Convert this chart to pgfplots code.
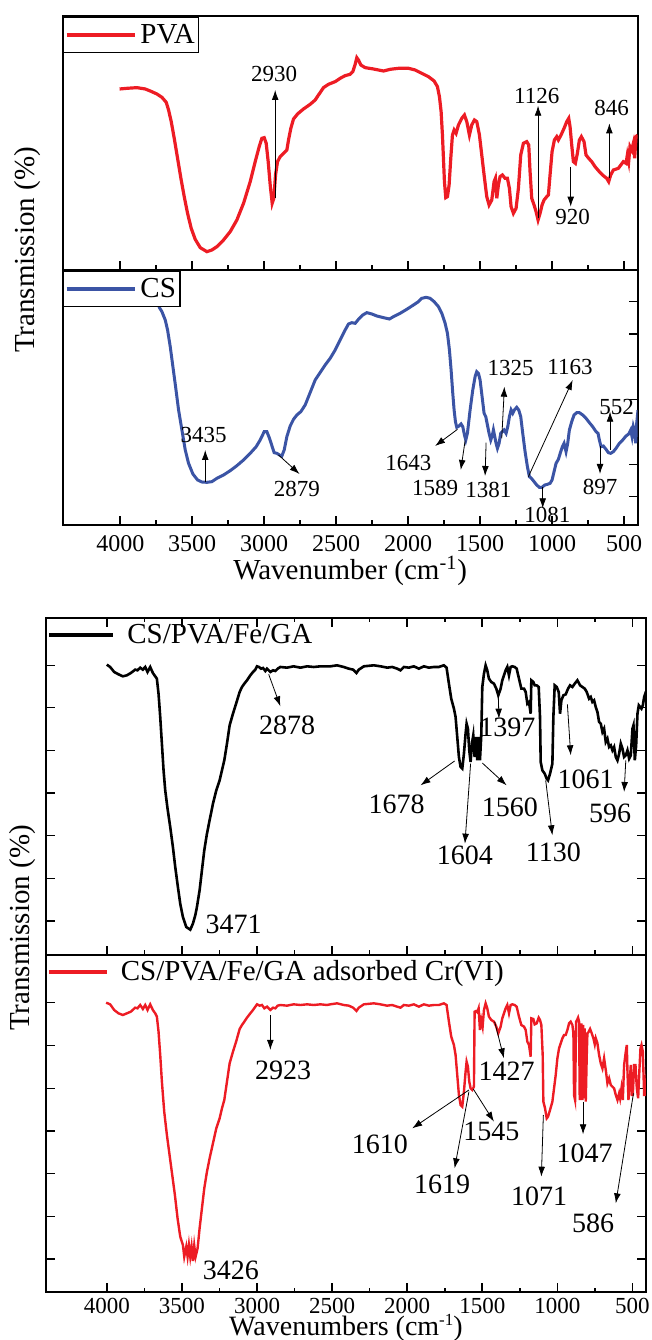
\documentclass[border=0pt]{standalone}
\usepackage{pgfplots}
\pgfplotsset{compat=1.18}
\usepackage{fontspec}
\setmainfont{Liberation Serif}
\usetikzlibrary{arrows.meta}
\definecolor{pvared}{RGB}{237,28,36}
\definecolor{csblue}{RGB}{59,84,165}
\newcommand\fa{\fontsize{11.5}{13}\selectfont}
\newcommand\fb{\fontsize{14}{16}\selectfont}
\newcommand\fl{\fontsize{14.5}{17}\selectfont}
\tikzset{ar/.style={line width=0.4pt,-{Latex[length=5pt,width=3.4pt]}},
  lab/.style={inner sep=0pt}}
\pgfplotsset{
  ftir/.style={
    scale only axis, x dir=reverse, clip=true,
    axis line style={line width=0.9pt},
    tick align=inside,
    xtick={500,1000,...,4000},
    minor x tick num=1,
    major tick length=4.5pt, minor tick length=2.3pt,
    major tick style={line width=0.8pt,black},
    minor tick style={line width=0.8pt,black},
    /pgf/number format/1000 sep={},
    /pgf/number format/assume math mode=true,
    scaled x ticks=false,
    tick label style={font=\fontsize{12}{14}\selectfont},
    legend cell align=left,
  },
  boxleg/.style={
    legend style={at={(0,1)}, anchor=north west, xshift=0.3pt, yshift=-0.3pt,
      draw=black, line width=0.6pt, fill=white, inner sep=0.5pt,
      font=\fl, nodes={inner xsep=1.5pt, inner ysep=3pt, text height=9.6pt, text depth=1pt},
      /tikz/every odd column/.append style={column sep=0.5pt}},
    legend image code/.code={\draw[##1,line width=1.8pt] (0pt,0pt) -- (34pt,0pt);}
  },
  freeleg/.style 2 args={
    legend style={at={(0,1)}, anchor=north west, xshift=0.5pt,
      draw=none, fill=none, inner sep=0pt,
      font=\fl, nodes={inner xsep=1.5pt, inner ysep=3pt, text height=9.6pt, text depth=1pt},
      /tikz/every odd column/.append style={column sep=4.5pt}},
    legend image code/.code={\draw[##1,line width=#2] (0pt,0pt) -- (#1,0pt);}
  },
}
\begin{document}
\begin{tikzpicture}
\useasboundingbox (0pt,0pt) rectangle (326pt,670pt);
% ---------------- PVA ----------------
\begin{axis}[ftir, boxleg, at={(31.35pt,535pt)}, anchor=south west,
  width=287.5pt, height=127pt, xmin=405, xmax=4400, ymin=-765, ymax=-3,
  xtick pos=left, xticklabels={}, ytick=\empty]
\addplot[pvared, line width=1.6pt] coordinates {
(4004.6,-222)(3953.7,-220)(3884.3,-218)(3826.4,-222)(3791.7,-228)(3745.4,-237)(3710.6,-247)(3680.6,-262)(3664.4,-285)(3645.8,-320)(3625.0,-370)(3601.9,-430)(3578.7,-490)(3555.6,-545)(3532.4,-595)(3507.0,-640)(3479.2,-673)(3444.4,-698)(3398.1,-710)(3363.4,-705)(3328.7,-695)(3282.4,-675)(3236.1,-650)(3189.8,-615)(3143.5,-565)(3097.2,-500)(3062.5,-440)(3034.7,-395)(3016.2,-370)(3000.0,-368)(2986.1,-385)(2972.2,-440)(2958.3,-510)(2944.4,-565)(2932.9,-550)(2921.3,-480)(2907.4,-440)(2888.9,-425)(2865.7,-415)(2842.6,-405)(2831.0,-375)(2814.8,-340)(2796.3,-312)(2768.5,-297)(2726.9,-282)(2680.6,-268)(2645.8,-255)(2622.7,-240)(2588.0,-218)(2553.3,-208)(2506.9,-200)(2472.2,-190)(2437.5,-182)(2402.8,-178)
(2384.2,-170)(2368.0,-148)(2356.5,-128)(2344.9,-135)(2328.7,-150)(2298.6,-158)(2240.7,-162)(2171.3,-168)(2125.0,-163)(2067.1,-160)(1997.7,-160)(1951.4,-165)(1905.1,-175)(1858.8,-185)(1819.4,-198)(1796.3,-215)(1782.4,-245)(1770.8,-290)(1761.6,-360)(1754.6,-430)(1747.7,-500)(1738.5,-548)(1726.8,-545)(1715.3,-510)(1703.7,-430)(1692.1,-360)(1680.5,-345)(1666.7,-355)(1650.4,-330)(1627.3,-310)(1608.8,-300)(1592.6,-320)(1574.1,-360)(1557.9,-330)(1539.4,-315)(1523.1,-320)(1504.6,-360)(1488.4,-420)(1472.2,-480)(1453.7,-545)(1437.5,-570)(1418.9,-555)(1402.8,-500)(1393.5,-490)(1384.2,-550)(1372.7,-510)(1361.1,-485)(1344.9,-480)(1326.4,-490)(1310.2,-490)(1296.3,-520)(1284.7,-575)(1268.5,-595)(1250.0,-580)(1233.8,-520)(1217.6,-420)(1199.1,-385)(1175.9,-380)(1162.0,-390)(1152.8,-470)(1141.2,-550)(1125.0,-570)(1111.1,-590)(1097.2,-615)(1083.3,-595)(1069.4,-570)(1055.6,-555)(1037.0,-545)(1025.5,-540)(1013.9,-480)(1000.0,-410)(983.8,-375)(967.6,-365)(956.0,-375)(937.5,-360)(916.7,-340)(898.1,-320)(884.2,-310)(874.9,-335)(863.4,-390)(851.8,-440)(838.0,-445)(824.1,-415)(810.1,-375)(796.3,-365)(777.8,-380)(763.9,-420)(745.4,-430)(724.5,-440)(701.4,-455)(671.5,-470)(643.5,-482)(620.4,-490)(606.5,-500)(592.6,-480)(574.1,-465)(539.4,-460)(504.6,-440)(486.1,-445)(476.9,-420)(467.6,-440)(458.5,-395)(446.8,-405)(435.3,-385)(426.0,-430)(416.7,-365)(405.1,-360)};
\addlegendentry{PVA}
\node[lab,font=\fa] at (axis cs:2930.6,-178) {2930};
\draw[ar] (axis cs:2923.6,-548) -- (axis cs:2923.6,-225);
\node[lab,font=\fa] at (axis cs:1106.5,-243) {1126};
\draw[ar] (axis cs:1097.2,-610) -- (axis cs:1097.2,-272);
\node[lab,font=\fa] at (axis cs:856.5,-605) {920};
\draw[ar] (axis cs:870.3,-455) -- (axis cs:870.3,-575);
\node[lab,font=\fa] at (axis cs:585.6,-278) {846};
\draw[ar] (axis cs:601.8,-490) -- (axis cs:601.8,-325);
\end{axis}
% ---------------- CS ----------------
\begin{axis}[ftir, boxleg, at={(31.35pt,407.5pt)}, anchor=south west,
  width=287.5pt, height=127.5pt, xmin=405, xmax=4400, ymin=-765, ymax=0,
  xtick pos=left, ytick pos=right, yticklabels={},
  ytick={-680,-583,-485,-388,-290,-192,-95},
  xticklabel style={yshift=-1.5pt},
  xlabel={Wavenumber (cm\textsuperscript{-1})},
  xlabel style={font=\fl, at={(axis description cs:0.5,0)}, anchor=center, yshift=-23pt}]
\addplot[csblue, line width=1.5pt] coordinates {
(3755,-30)(3745.4,-60)(3729.2,-112)(3710.6,-125)(3687.5,-150)(3671.3,-180)(3652.8,-230)(3634.3,-290)(3615.7,-350)(3594.9,-420)(3571.8,-480)(3548.6,-540)(3525.5,-580)(3495.4,-612)(3462.9,-630)(3432.9,-636)(3398.1,-637)(3363.4,-635)(3328.7,-625)(3282.4,-615)(3236.1,-602)(3189.8,-587)(3143.5,-570)(3097.2,-550)(3055.6,-530)(3027.8,-510)(3000.0,-485)(2981.5,-485)(2963.0,-505)(2944.4,-530)(2930.6,-548)(2912.0,-550)(2893.5,-555)(2877.3,-558)(2861.1,-540)(2842.6,-500)(2819.4,-468)(2796.3,-448)(2773.1,-435)(2745.4,-425)(2715.3,-405)(2692.1,-380)(2668.9,-355)(2645.8,-330)(2622.7,-315)(2599.5,-300)(2576.4,-285)(2541.7,-265)(2506.9,-240)(2472.2,-210)(2437.5,-180)(2414.4,-162)(2391.2,-158)
(2368.0,-160)(2344.9,-148)(2314.8,-135)(2287.0,-128)(2252.3,-132)(2217.6,-138)(2171.3,-143)(2129.6,-147)(2101.9,-140)(2055.6,-130)(2009.3,-118)(1962.9,-105)(1928.2,-95)(1905.1,-85)(1875.0,-82)(1847.2,-85)(1819.4,-95)(1789.3,-110)(1766.2,-130)(1743.0,-160)(1726.8,-190)(1713.0,-240)(1701.4,-300)(1689.8,-370)(1680.5,-420)(1671.3,-455)(1662.0,-472)(1645.8,-468)(1632.0,-462)(1620.4,-470)(1608.8,-495)(1599.5,-510)(1588.0,-490)(1569.4,-420)(1550.9,-360)(1534.7,-320)(1523.1,-305)(1511.6,-310)(1500.0,-330)(1486.1,-380)(1472.2,-430)(1460.6,-440)(1449.1,-465)(1437.5,-490)(1425.9,-510)(1414.4,-495)(1407.4,-480)(1398.1,-500)(1388.9,-520)(1379.6,-535)(1368.1,-520)(1356.5,-490)(1344.9,-485)(1333.3,-480)(1319.5,-490)(1307.8,-470)(1296.3,-440)(1284.7,-420)(1273.1,-430)(1261.6,-420)(1245.4,-412)(1231.5,-420)(1217.6,-440)(1203.7,-490)(1187.5,-545)(1171.3,-590)(1157.4,-620)(1143.5,-625)(1125.0,-635)(1106.5,-645)(1088.0,-652)(1069.4,-652)(1050.9,-645)(1032.4,-643)(1013.9,-640)(1000.0,-630)(986.1,-605)(972.2,-580)(956.0,-568)(939.8,-545)(928.2,-530)(916.7,-520)(902.8,-545)(891.2,-520)(879.6,-480)(863.4,-455)(847.2,-435)(828.7,-428)(810.1,-428)(787.0,-435)(763.9,-445)(740.7,-458)(717.6,-470)(694.4,-485)(680.5,-490)(671.3,-510)(659.7,-530)(643.5,-528)(625.0,-538)(608.8,-548)(592.6,-550)(574.1,-545)(555.6,-535)(532.4,-520)(509.3,-510)(486.1,-498)(467.6,-492)(453.7,-480)(444.4,-500)(435.3,-470)(426.0,-485)(419.0,-520)(412.1,-460)(402.8,-420)};
\addlegendentry{CS}
\node[lab,font=\fa] at (axis cs:3421.3,-495) {3435};
\draw[ar] (axis cs:3409.7,-637) -- (axis cs:3409.7,-540);
\node[lab,font=\fa] at (axis cs:2773.2,-657) {2879};
\draw[ar] (axis cs:2900.5,-555) -- (axis cs:2754.6,-612);
\node[lab,font=\fa] at (axis cs:1997.7,-578) {1643};
\draw[ar] (axis cs:1657.4,-478) -- (axis cs:1812.5,-528);
\node[lab,font=\fa] at (axis cs:1812.5,-655) {1589};
\draw[ar] (axis cs:1604.1,-512) -- (axis cs:1634.2,-600);
\node[lab,font=\fa] at (axis cs:1442.1,-660) {1381};
\draw[ar] (axis cs:1458.3,-518) -- (axis cs:1465.3,-618);
\node[lab,font=\fa] at (axis cs:1287.0,-295) {1325};
\draw[ar] (axis cs:1349.5,-505) -- (axis cs:1331.0,-350);
\node[lab,font=\fa] at (axis cs:875.0,-290) {1163};
\draw[ar] (axis cs:1164.4,-620) -- (axis cs:856.5,-330);
\node[lab,font=\fa] at (axis cs:1032.4,-735) {1081};
\draw[ar] (axis cs:1064.8,-652) -- (axis cs:1064.8,-715);
\node[lab,font=\fa] at (axis cs:550.9,-412) {552};
\draw[ar] (axis cs:597.2,-540) -- (axis cs:597.2,-425);
\node[lab,font=\fa] at (axis cs:666.7,-652) {897};
\draw[ar] (axis cs:666.7,-528) -- (axis cs:666.7,-612);
\end{axis}
\node[rotate=90,font=\fl] at (14pt,545pt) {Transmission (\%)};
% ---------------- CS/PVA/Fe/GA ----------------
\begin{axis}[ftir, freeleg={32pt}{2pt}, at={(23pt,192.5pt)}, anchor=south west,
  width=300pt, height=168.67pt, xmin=410, xmax=4405, ymin=-1014, ymax=-2,
  xtick pos=both, ytick pos=both, xticklabels={}, yticklabels={},
  ytick={-912,-784,-656,-528,-400,-272,-145}]
\addplot[black, line width=1.3pt] coordinates {
(4000,-143)(3977.8,-150)(3951.1,-165)(3922.2,-172)(3893.3,-178)(3866.7,-175)(3840.0,-168)(3811.1,-158)(3795.6,-160)(3777.8,-152)(3760.0,-158)(3744.4,-150)(3728.9,-165)(3711.1,-150)(3693.3,-168)(3677.8,-178)(3666.7,-185)(3655.6,-230)(3644.4,-300)(3633.3,-380)(3622.2,-460)(3611.1,-520)(3595.6,-575)(3577.8,-630)(3560.0,-690)(3544.4,-750)(3526.7,-810)(3511.1,-860)(3493.3,-900)(3471.1,-930)(3444.4,-938)(3426.7,-920)(3411.1,-895)(3400.0,-870)(3382.2,-820)(3366.7,-760)(3351.1,-700)(3333.3,-650)(3315.6,-610)(3293.3,-560)(3271.1,-520)(3248.9,-490)(3233.3,-460)(3217.8,-430)(3200.0,-380)(3182.2,-325)(3160.0,-290)(3137.8,-258)(3115.6,-225)(3100.0,-210)(3084.4,-200)(3066.7,-190)(3044.4,-175)(3026.7,-165)(3011.1,-158)(3000.0,-148)(2986.7,-150)(2973.3,-155)(2960.0,-153)(2944.4,-162)(2933.3,-155)(2911.1,-165)(2893.3,-160)(2877.8,-162)(2862.2,-155)(2844.4,-150)(2800.0,-152)(2755.6,-148)(2711.1,-152)(2666.7,-148)(2622.2,-150)(2577.8,-148)(2533.3,-148)
(2511.1,-148)(2466.7,-145)(2422.2,-150)(2388.9,-155)(2360.0,-158)(2337.8,-168)(2322.2,-158)(2288.9,-148)(2222.2,-145)(2177.8,-148)(2133.3,-152)(2100.0,-150)(2066.7,-155)(2044.4,-160)(2022.2,-150)(1988.9,-152)(1955.6,-148)(1922.2,-155)(1888.9,-148)(1855.6,-152)(1822.2,-150)(1788.9,-150)(1755.6,-145)(1737.8,-152)(1722.2,-200)(1706.7,-245)(1688.9,-275)(1677.8,-300)(1666.7,-360)(1655.6,-420)(1644.4,-450)(1633.3,-455)(1622.2,-410)(1611.1,-350)(1604.4,-320)(1595.6,-335)(1586.7,-400)(1577.8,-435)(1568.9,-380)(1560.0,-355)(1551.1,-420)(1542.2,-360)(1533.3,-430)(1524.4,-360)(1515.6,-430)(1506.7,-355)(1500.0,-210)(1488.9,-170)(1477.8,-145)(1466.7,-160)(1455.6,-185)(1440.0,-195)(1422.2,-200)(1406.7,-215)(1393.3,-235)(1377.8,-215)(1366.7,-190)(1355.6,-175)(1344.4,-160)(1333.3,-150)(1322.2,-175)(1311.1,-150)(1300.0,-148)(1284.4,-150)(1271.1,-155)(1255.6,-185)(1240.0,-215)(1222.2,-215)(1211.1,-225)(1200.0,-260)(1188.9,-255)(1177.8,-290)(1173.3,-190)(1160.0,-195)(1151.1,-205)(1137.8,-205)(1124.4,-210)(1115.6,-300)(1111.1,-435)(1100.0,-460)(1084.4,-470)(1071.1,-485)(1062.2,-490)(1048.9,-470)(1033.3,-440)(1026.7,-300)(1017.8,-205)(1004.4,-210)(991.1,-225)(982.2,-290)(973.3,-250)(960.0,-235)(944.4,-232)(928.9,-215)(915.6,-205)(900.0,-210)(884.4,-200)(866.7,-190)(848.9,-205)(833.3,-210)(817.8,-215)(804.4,-225)(788.9,-245)(777.8,-240)(766.7,-255)(755.6,-250)(744.4,-270)(733.3,-285)(722.2,-315)(711.1,-320)(700.0,-345)(688.9,-335)(677.8,-375)(666.7,-365)(655.6,-390)(644.4,-385)(633.3,-400)(622.2,-390)(611.1,-420)(600.0,-430)(588.9,-410)(577.8,-380)(566.7,-395)(555.6,-420)(544.4,-415)(533.3,-400)(522.2,-425)(511.1,-415)(500.0,-335)(493.3,-325)(484.4,-430)(475.6,-385)(466.7,-290)(457.8,-265)(448.9,-270)(440.0,-275)(431.1,-265)(422.2,-240)(411.1,-225)(400.0,-220)};
\addlegendentry{CS/PVA/Fe/GA}
\node[lab,font=\fb] at (axis cs:2800.0,-325) {2878};
\draw[ar] (axis cs:2922.2,-172) -- (axis cs:2844.4,-268);
\node[lab,font=\fb] at (axis cs:3155.6,-922) {3471};
\node[lab,font=\fb] at (axis cs:2071.1,-563) {1678};
\draw[ar] (axis cs:1684.4,-432) -- (axis cs:1911.1,-505);
\node[lab,font=\fb] at (axis cs:1615.6,-715) {1604};
\draw[ar] (axis cs:1577.8,-440) -- (axis cs:1615.6,-680);
\node[lab,font=\fb] at (axis cs:1315.6,-572) {1560};
\draw[ar] (axis cs:1500.0,-438) -- (axis cs:1337.8,-505);
\node[lab,font=\fb] at (axis cs:1333.3,-330) {1397};
\draw[ar] (axis cs:1393.3,-240) -- (axis cs:1388.9,-305);
\node[lab,font=\fb] at (axis cs:1026.7,-705) {1130};
\draw[ar] (axis cs:1077.8,-490) -- (axis cs:1033.3,-655);
\node[lab,font=\fb] at (axis cs:811.1,-488) {1061};
\draw[ar] (axis cs:933.3,-262) -- (axis cs:911.1,-415);
\node[lab,font=\fb] at (axis cs:648.9,-590) {596};
\draw[ar] (axis cs:544.4,-430) -- (axis cs:555.6,-525);
\end{axis}
% ---------------- CS/PVA/Fe/GA adsorbed Cr(VI) ----------------
\begin{axis}[ftir, freeleg={29pt}{1.7pt}, at={(23pt,23.83pt)}, anchor=south west,
  width=300pt, height=168.67pt, xmin=410, xmax=4405, ymin=-1012, ymax=0,
  xtick pos=left, ytick pos=both, yticklabels={},
  ytick={-912,-784,-656,-528,-400,-272,-143},
  xticklabel style={inner sep=0pt, yshift=-2.5pt, font=\fontsize{11.5}{13}\selectfont},
  xlabel={Wavenumbers (cm\raisebox{0.35em}{\fontsize{8.5}{9}\selectfont -1})},
  xlabel style={font=\fontsize{14}{16}\selectfont, inner sep=0pt, at={(axis description cs:0.5,0)}, anchor=base, yshift=-21.5pt}]
\addplot[pvared, line width=1.2pt] coordinates {
(4004.4,-143)(3977.8,-148)(3951.1,-165)(3922.2,-175)(3893.3,-180)(3866.7,-175)(3840.0,-170)(3811.1,-158)(3795.6,-160)(3777.8,-150)(3760.0,-162)(3744.4,-150)(3728.9,-165)(3711.1,-148)(3693.3,-165)(3677.8,-175)(3666.7,-185)(3655.6,-230)(3644.4,-300)(3633.3,-380)(3617.8,-470)(3600.0,-540)(3582.2,-600)(3564.4,-660)(3546.7,-720)(3528.9,-790)(3511.1,-845)(3493.3,-870)(3484.4,-905)(3471.1,-875)(3462.2,-905)(3453.3,-870)(3444.4,-905)(3435.6,-875)(3426.7,-918)(3417.8,-872)(3408.9,-905)(3395.6,-880)(3382.2,-820)(3366.7,-760)(3351.1,-700)(3333.3,-650)(3315.6,-610)(3293.3,-565)(3271.1,-520)(3248.9,-490)(3233.3,-460)(3217.8,-435)(3200.0,-380)(3182.2,-325)(3160.0,-290)(3137.8,-258)(3115.6,-222)(3100.0,-210)(3084.4,-200)(3066.7,-188)(3044.4,-175)(3026.7,-165)(3011.1,-155)(3000.0,-148)(2982.2,-152)(2966.7,-150)(2951.1,-160)(2933.3,-155)(2911.1,-165)(2893.3,-158)(2877.8,-160)(2862.2,-152)(2844.4,-150)(2800.0,-152)(2755.6,-148)(2711.1,-150)(2666.7,-148)(2622.2,-150)(2577.8,-148)(2533.3,-150)
(2511.1,-148)(2466.7,-145)(2422.2,-150)(2388.9,-152)(2360.0,-158)(2337.8,-168)(2322.2,-158)(2288.9,-148)(2222.2,-145)(2177.8,-148)(2133.3,-152)(2100.0,-150)(2066.7,-155)(2044.4,-158)(2022.2,-150)(1988.9,-152)(1955.6,-148)(1922.2,-155)(1888.9,-148)(1855.6,-152)(1822.2,-150)(1788.9,-150)(1755.6,-145)(1737.8,-150)(1722.2,-200)(1706.7,-245)(1688.9,-270)(1677.8,-300)(1666.7,-360)(1655.6,-420)(1644.4,-450)(1633.3,-455)(1622.2,-410)(1611.1,-350)(1604.4,-320)(1595.6,-335)(1586.7,-380)(1577.8,-400)(1566.7,-405)(1555.6,-395)(1551.1,-170)(1542.2,-168)(1533.3,-172)(1524.4,-160)(1515.6,-225)(1506.7,-195)(1497.8,-215)(1488.9,-165)(1477.8,-145)(1466.7,-160)(1455.6,-185)(1440.0,-195)(1422.2,-200)(1406.7,-215)(1393.3,-235)(1377.8,-215)(1366.7,-190)(1355.6,-175)(1344.4,-160)(1333.3,-150)(1322.2,-175)(1311.1,-150)(1300.0,-148)(1284.4,-150)(1271.1,-155)(1255.6,-185)(1240.0,-210)(1222.2,-215)(1211.1,-225)(1200.0,-260)(1188.9,-270)(1177.8,-305)(1173.3,-190)(1160.0,-192)(1151.1,-208)(1137.8,-205)(1124.4,-188)(1115.6,-195)(1106.7,-210)(1097.8,-300)(1093.3,-440)(1082.2,-460)(1071.1,-490)(1062.2,-485)(1048.9,-465)(1033.3,-440)(1022.2,-400)(1011.1,-360)(1000.0,-310)(988.9,-280)(977.8,-265)(966.7,-250)(955.6,-240)(944.4,-240)(933.3,-225)(922.2,-205)(911.1,-200)(900.0,-210)(893.3,-235)(888.9,-420)(882.2,-435)(875.6,-200)(868.9,-195)(862.2,-188)(855.6,-200)(851.1,-435)(844.4,-300)(840.0,-205)(833.3,-435)(828.9,-210)(822.2,-430)(817.8,-220)(811.1,-440)(804.4,-300)(800.0,-235)(793.3,-232)(782.2,-222)(771.1,-235)(760.0,-250)(751.1,-268)(744.4,-250)(733.3,-265)(722.2,-300)(711.1,-325)(700.0,-340)(688.9,-310)(677.8,-345)(666.7,-385)(655.6,-370)(644.4,-390)(633.3,-395)(622.2,-400)(611.1,-420)(600.0,-435)(588.9,-415)(582.2,-430)(573.3,-400)(564.4,-435)(555.6,-330)(544.4,-290)(537.8,-270)(533.3,-350)(526.7,-435)(520.0,-390)(511.1,-330)(504.4,-420)(497.8,-420)(488.9,-330)(480.0,-330)(471.1,-400)(462.2,-430)(453.3,-340)(446.7,-280)(440.0,-270)(431.1,-290)(422.2,-420)(413.3,-420)(404.4,-350)(395.6,-370)};
\addlegendentry{CS/PVA/Fe/GA adsorbed Cr(VI)}
\node[lab,font=\fb] at (axis cs:3173.3,-945) {3426};
\node[lab,font=\fb] at (axis cs:2826.7,-345) {2923};
\draw[ar] (axis cs:2911.1,-180) -- (axis cs:2911.1,-285);
\node[lab,font=\fb] at (axis cs:2182.2,-568) {1610};
\draw[ar] (axis cs:1588.9,-405) -- (axis cs:1966.7,-520);
\node[lab,font=\fb] at (axis cs:1766.7,-688) {1619};
\draw[ar] (axis cs:1588.9,-410) -- (axis cs:1684.4,-640);
\node[lab,font=\fb] at (axis cs:1440.0,-530) {1545};
\draw[ar] (axis cs:1560.0,-402) -- (axis cs:1422.2,-500);
\node[lab,font=\fb] at (axis cs:1337.8,-350) {1427};
\draw[ar] (axis cs:1417.8,-200) -- (axis cs:1355.6,-310);
\node[lab,font=\fb] at (axis cs:1122.2,-725) {1071};
\draw[ar] (axis cs:1093.3,-480) -- (axis cs:1106.7,-665);
\node[lab,font=\fb] at (axis cs:817.8,-595) {1047};
\draw[ar] (axis cs:828.9,-440) -- (axis cs:828.9,-538);
\node[lab,font=\fb] at (axis cs:762.2,-805) {586};
\draw[ar] (axis cs:493.3,-415) -- (axis cs:611.1,-745);
\end{axis}
\node[rotate=90,font=\fl] at (11.5pt,206pt) {Transmission (\%)};
\end{tikzpicture}
\end{document}
